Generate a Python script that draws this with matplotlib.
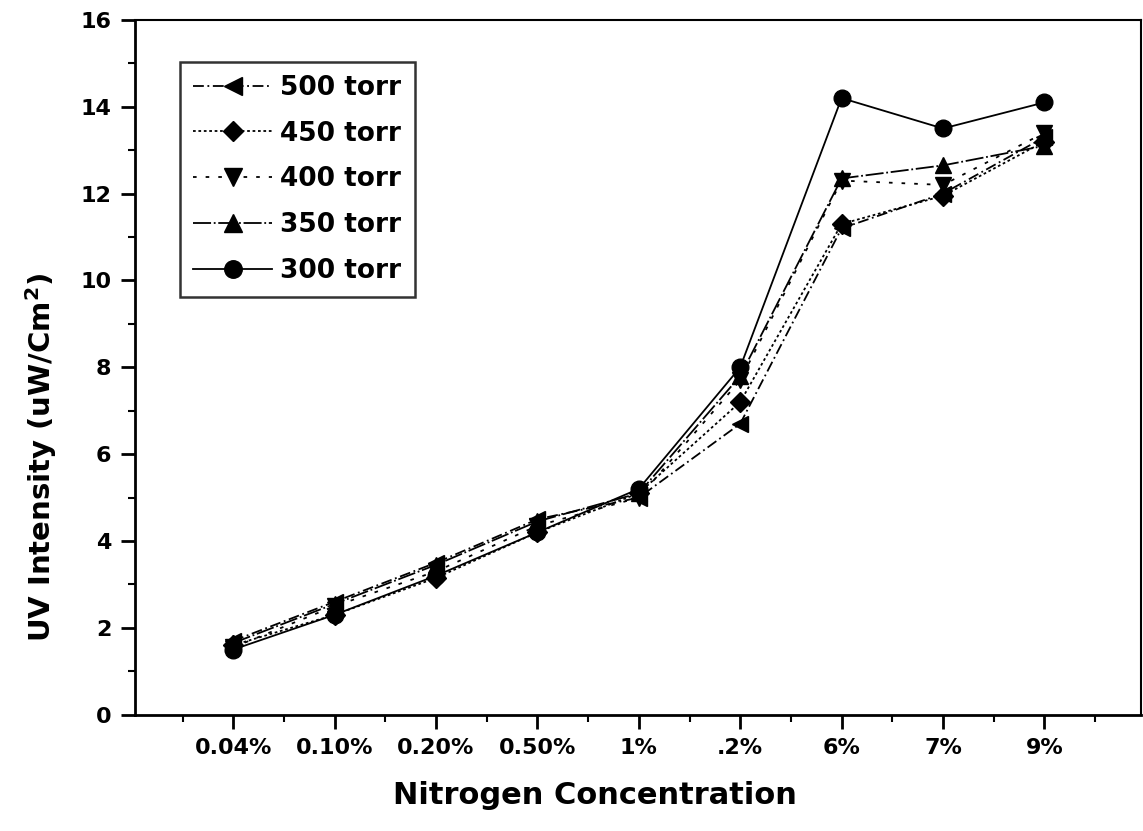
import matplotlib
matplotlib.use('Agg')
import matplotlib.pyplot as plt
from matplotlib.ticker import MultipleLocator

plt.rcParams['font.family'] = ['DejaVu Sans']
plt.rcParams['font.weight'] = 'bold'
plt.rcParams['mathtext.default'] = 'bf'

concentrations = ['0.04%', '0.10%', '0.20%', '0.50%', '1%', '.2%', '6%', '7%', '9%']
torr_500 = [1.7, 2.6, 3.5, 4.5, 5.0, 6.7, 11.2, 12.0, 13.3]
torr_450 = [1.6, 2.3, 3.15, 4.2, 5.1, 7.2, 11.3, 11.95, 13.2]
torr_400 = [1.55, 2.5, 3.3, 4.35, 5.0, 7.7, 12.3, 12.2, 13.4]
torr_350 = [1.65, 2.55, 3.45, 4.45, 5.1, 7.8, 12.35, 12.65, 13.1]
torr_300 = [1.5, 2.3, 3.2, 4.2, 5.2, 8.0, 14.2, 13.5, 14.1]

series = [
    ('500 torr', torr_500, '<', (0, (6, 2, 1, 2))),
    ('450 torr', torr_450, 'D', (0, (1.5, 1.5))),
    ('400 torr', torr_400, 'v', (0, (2, 5))),
    ('350 torr', torr_350, '^', (0, (10, 1.5, 1, 1.5))),
    ('300 torr', torr_300, 'o', '-'),
]

fig = plt.figure(figsize=(11.43, 8.31), dpi=100)
ax = fig.add_axes([0.118, 0.14, 0.88, 0.836])

x = list(range(1, len(concentrations) + 1))
for label, vals, marker, ls in series:
    ms = 10 if marker == 'D' else 12
    ax.plot(x, vals, color='black', linestyle=ls, linewidth=1.3,
            marker=marker, markersize=ms, label=label)

ax.set_xlim(0.03, 9.95)
ax.set_ylim(0, 16)
ax.set_xticks(x)
ax.set_xticklabels(concentrations)
ax.xaxis.set_minor_locator(MultipleLocator(0.5))
ax.yaxis.set_major_locator(MultipleLocator(2))
ax.yaxis.set_minor_locator(MultipleLocator(1))
ax.tick_params(axis='both', which='major', direction='out', length=10, width=2,
               labelsize=16, pad=7)
ax.tick_params(axis='both', which='minor', direction='out', length=5, width=1.5)
for lbl in ax.get_xticklabels() + ax.get_yticklabels():
    lbl.set_fontweight('bold')

for side in ['left', 'bottom']:
    ax.spines[side].set_linewidth(2)
for side in ['top', 'right']:
    ax.spines[side].set_linewidth(1.5)

ax.set_xlabel('Nitrogen Concentration', fontsize=22, fontweight='bold')
ax.xaxis.set_label_coords(0.457, -0.095)
ax.set_ylabel('UV Intensity (uW/Cm$^2$)', fontsize=21, fontweight='bold')
ax.yaxis.set_label_coords(-0.075, 0.37)

leg = ax.legend(loc='upper left', bbox_to_anchor=(0.045, 0.94), borderaxespad=0,
                fontsize=19, frameon=True, fancybox=False, edgecolor='black',
                handlelength=3.0, borderpad=0.5, labelspacing=0.75,
                handletextpad=0.3, markerscale=1.05)
leg.get_frame().set_linewidth(1.8)

fig.savefig('out.png', dpi=100)
